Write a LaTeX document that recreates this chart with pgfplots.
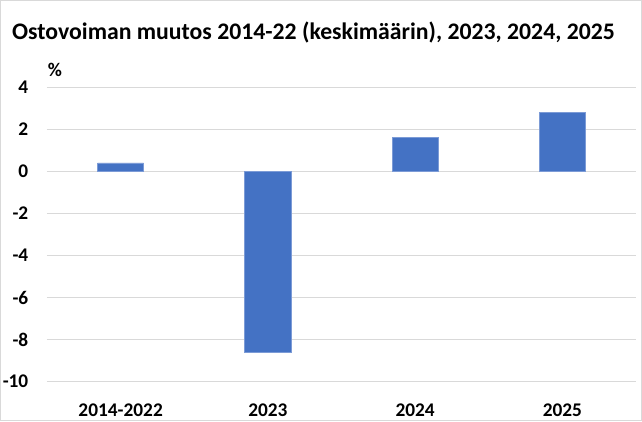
\documentclass[border=0pt]{standalone}
\usepackage{fontspec}
\setmainfont{Carlito}
\usepackage{pgfplots}
\pgfplotsset{compat=1.18}
\definecolor{barblue}{HTML}{4472C4}
\definecolor{baredge}{HTML}{7C9BD6}
\definecolor{gridgray}{HTML}{D9D9D9}
\begin{document}
\begin{tikzpicture}
\path[use as bounding box] (0,0) rectangle (481.5pt,315.75pt);
\begin{axis}[
  at={(35.25pt,29.5pt)}, anchor=south west,
  scale only axis, width=441.75pt, height=220.8pt,
  ybar, bar width=0.314,
  xmin=-0.5, xmax=3.5, ymin=-10, ymax=4,
  xtick=data, xticklabels={2014-2022,2023,2024,2025},
  ytick={-10,-8,...,4},
  axis line style={draw=none}, tick style={draw=none},
  ymajorgrids, grid style={gridgray, line width=0.75pt},
  /pgf/number format/assume math mode=true,
  ticklabel style={font=\fontsize{14.5}{17}\selectfont\bfseries},
  xticklabel style={anchor=center, yshift=-17.5pt},
  yticklabel style={xshift=-10.5pt},
]
\addplot[fill=barblue, draw=baredge, line width=0.5pt]
  coordinates {(0,0.4) (1,-8.6) (2,1.6) (3,2.8)};
\end{axis}
\node[anchor=base, font=\fontsize{17.8}{21}\selectfont\bfseries] at (235.1pt,285.75pt)
  {Ostovoiman muutos 2014-22 (keskimäärin), 2023, 2024, 2025};
\node[font=\fontsize{14.5}{17}\selectfont\bfseries] at (41.25pt,263.25pt) {\%};
\draw[gridgray, line width=0.75pt] (0.375pt,0.375pt) rectangle (481.125pt,315.375pt);
\end{tikzpicture}
\end{document}
